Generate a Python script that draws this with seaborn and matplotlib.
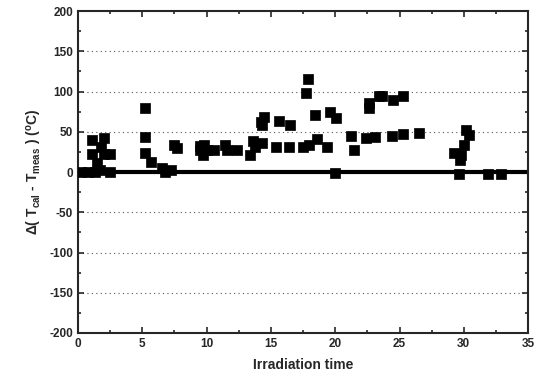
import matplotlib
matplotlib.use("Agg")
import matplotlib.pyplot as plt
import seaborn as sns
import pandas as pd
from matplotlib.ticker import MultipleLocator

time = [1.1, 2.0, 1.1, 2.0, 2.5, 1.8, 1.5, 1.7, 2.5, 0.2, 0.8, 1.3,
        5.2, 5.2, 5.2, 5.7, 6.5, 7.2, 7.5, 7.7, 6.8,
        9.5, 9.5, 9.8, 10.0, 9.7, 10.6, 11.4, 11.6, 12.4, 13.4, 13.6, 13.8, 14.3,
        14.2, 14.5, 14.3, 15.6, 16.5, 15.4, 16.4, 17.5, 17.9, 17.7, 18.0, 18.4, 18.6,
        19.4, 19.6, 20.1, 20.0, 21.2, 21.5, 22.4, 22.6, 22.6, 23.1, 23.4, 23.6,
        24.5, 24.4, 25.3, 25.3, 26.5,
        29.2, 29.6, 29.7, 29.8, 30.0, 30.2, 30.4, 31.9, 32.9]
delta = [40, 42, 23, 23, 22, 31, 11, 2, 0, 0, 0, 0,
         80, 44, 24, 12, 5, 2, 34, 30, 0,
         27, 32, 34, 27, 21, 27, 33, 27, 27, 21, 38, 31, 36,
         62, 68, 58, 63, 58, 31, 31, 31, 116, 98, 34, 71, 41,
         31, 74, 67, -1, 45, 27, 42, 86, 80, 43, 94, 94,
         89, 45, 94, 47, 49,
         24, -2, 15, 21, 34, 52, 46, -2, -2]

xticks = [0, 5, 10, 15, 20, 25, 30, 35]
yticks = [-200, -150, -100, -50, 0, 50, 100, 150, 200]
xlabel = "Irradiation time"
ylabel = r"$\Delta$( T$_{cal}$ - T$_{meas}$ ) ($^{o}$C)"

df = pd.DataFrame({"time": time, "delta": delta})

sns.set_style("ticks")
plt.rcParams["font.family"] = ["Liberation Sans", "DejaVu Sans"]
plt.rcParams["font.weight"] = "bold"
plt.rcParams["axes.unicode_minus"] = False
plt.rcParams["mathtext.fontset"] = "custom"
plt.rcParams["mathtext.rm"] = "Liberation Sans:bold"
plt.rcParams["mathtext.it"] = "Liberation Sans:bold"
plt.rcParams["mathtext.bf"] = "Liberation Sans:bold"
plt.rcParams["mathtext.default"] = "rm"

fig = plt.figure(figsize=(5.43, 3.81), dpi=100)
ax = fig.add_axes([0.1436, 0.126, 0.829, 0.845])

for yv in [-150, -100, -50, 50, 100, 150]:
    ax.axhline(yv, color="#555555", lw=0.8, ls=(0, (1, 3)), zorder=0)
ax.axhline(0, color="black", lw=3, zorder=1)

sns.scatterplot(data=df, x="time", y="delta", marker="s", s=44, color="black",
                edgecolor="black", linewidth=0.5, ax=ax, zorder=3, legend=False)

ax.set_xlim(0, 35)
ax.set_ylim(-200, 200)
ax.set_xticks(xticks)
ax.set_yticks(yticks)
ax.xaxis.set_minor_locator(MultipleLocator(2.5))
ax.yaxis.set_minor_locator(MultipleLocator(25))
ax.tick_params(which="both", direction="in", top=True, right=True, width=1.2,
               labelsize=8.5)
ax.tick_params(which="major", length=4)
ax.tick_params(which="minor", length=2.5)
for lab in ax.get_xticklabels() + ax.get_yticklabels():
    lab.set_fontweight("bold")
for sp in ax.spines.values():
    sp.set_linewidth(1.5)
ax.set_xlabel(xlabel, fontsize=10, fontweight="bold", labelpad=6)
ax.set_ylabel(ylabel, fontsize=10, fontweight="bold", labelpad=4)

fig.savefig("out.png", dpi=100)
